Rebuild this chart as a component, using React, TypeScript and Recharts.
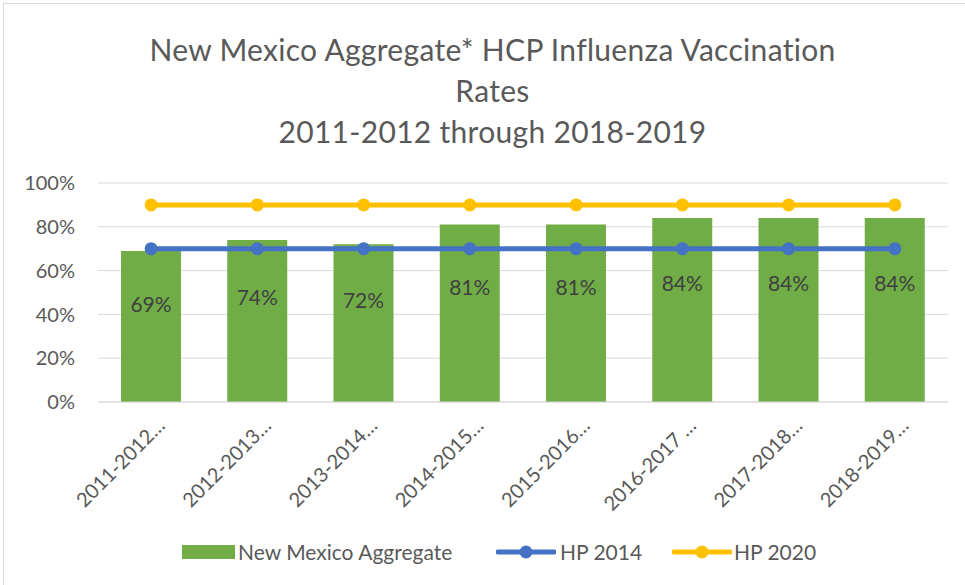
import { ComposedChart, Bar, Line, XAxis, YAxis, CartesianGrid, LabelList } from "recharts";

const seasons = [
  "2011-2012…",
  "2012-2013…",
  "2013-2014…",
  "2014-2015…",
  "2015-2016…",
  "2016-2017 …",
  "2017-2018…",
  "2018-2019…",
];
const nmAggregate = [69, 74, 72, 81, 81, 84, 84, 84];
const hp2014 = [70, 70, 70, 70, 70, 70, 70, 70];
const hp2020 = [90, 90, 90, 90, 90, 90, 90, 90];
const yTicks = [0, 20, 40, 60, 80, 100];

const data = seasons.map((season, i) => ({
  season,
  nm: nmAggregate[i],
  hp2014: hp2014[i],
  hp2020: hp2020[i],
}));

const FONT = "Lato, 'Open Sans', sans-serif";
const GREEN = "#70ad47";
const BLUE = "#4472c4";
const GOLD = "#ffc000";

function SeasonTick(props: any) {
  const { x, y, payload } = props;
  return (
    <g transform={`translate(${x + 15},${y + 17})`}>
      <text
        x={0}
        y={0}
        textAnchor="end"
        transform="rotate(-45)"
        fill="#595959"
        fontSize={20}
        fontFamily={FONT}
      >
        {payload.value}
      </text>
    </g>
  );
}

function BarValue(props: any) {
  const { x, y, width, height, value } = props;
  return (
    <text
      x={x + width / 2}
      y={y + height * 0.35}
      textAnchor="middle"
      dominantBaseline="central"
      fill="#404040"
      fontSize={21}
      fontFamily={FONT}
    >
      {value}%
    </text>
  );
}

function LegendLine({ color }: { color: string }) {
  return (
    <svg width={60} height={16} style={{ display: "block" }}>
      <line x1={2} y1={8} x2={58} y2={8} stroke={color} strokeWidth={5} strokeLinecap="round" />
      <circle cx={30} cy={8} r={6.5} fill={color} />
    </svg>
  );
}

const legendText = {
  position: "absolute" as const,
  top: 539,
  fontSize: 21,
  lineHeight: "26px",
  color: "#595959",
  whiteSpace: "nowrap" as const,
};

export default function App() {
  return (
    <div
      style={{
        position: "absolute",
        left: 0,
        top: 0,
        width: 965,
        height: 585,
        background: "#fff",
        fontFamily: FONT,
      }}
    >
      <div
        style={{
          position: "absolute",
          left: 3,
          top: 3,
          width: 970,
          height: 590,
          borderLeft: "1px solid #d9d9d9",
          borderTop: "1px solid #d9d9d9",
        }}
      />
      <ComposedChart
        width={965}
        height={585}
        data={data}
        margin={{ top: 183, right: 17, bottom: 0, left: 0 }}
      >
        <CartesianGrid vertical={false} stroke="#d9d9d9" />
        <XAxis
          dataKey="season"
          height={183}
          axisLine={{ stroke: "#d9d9d9" }}
          tickLine={false}
          tick={<SeasonTick />}
          interval={0}
        />
        <YAxis
          width={98}
          domain={[0, 100]}
          ticks={yTicks}
          tickFormatter={(v: number) => `${v}%`}
          axisLine={false}
          tickLine={false}
          tickSize={0}
          tickMargin={23}
          tick={{ fill: "#595959", fontSize: 20, fontFamily: FONT }}
        />
        <Bar dataKey="nm" name="New Mexico Aggregate" fill={GREEN} barSize={60} isAnimationActive={false}>
          <LabelList dataKey="nm" content={<BarValue />} />
        </Bar>
        <Line
          dataKey="hp2014"
          name="HP 2014"
          stroke={BLUE}
          strokeWidth={5}
          dot={{ r: 6.5, fill: BLUE, stroke: BLUE, strokeWidth: 0 }}
          isAnimationActive={false}
        />
        <Line
          dataKey="hp2020"
          name="HP 2020"
          stroke={GOLD}
          strokeWidth={5}
          dot={{ r: 6.5, fill: GOLD, stroke: GOLD, strokeWidth: 0 }}
          isAnimationActive={false}
        />
      </ComposedChart>
      <div
        style={{
          position: "absolute",
          left: 10,
          top: 29,
          width: 965,
          textAlign: "center",
          fontSize: 30,
          letterSpacing: 0.3,
          lineHeight: "41px",
          color: "#595959",
        }}
      >
        <div>New Mexico Aggregate* HCP Influenza Vaccination</div>
        <div>Rates</div>
        <div>2011-2012 through 2018-2019</div>
      </div>
      <div style={{ position: "absolute", left: 182, top: 545, width: 53, height: 14, background: GREEN }} />
      <span style={{ ...legendText, left: 238 }}>New Mexico Aggregate</span>
      <div style={{ position: "absolute", left: 496, top: 544 }}>
        <LegendLine color={BLUE} />
      </div>
      <span style={{ ...legendText, left: 560 }}>HP 2014</span>
      <div style={{ position: "absolute", left: 672, top: 544 }}>
        <LegendLine color={GOLD} />
      </div>
      <span style={{ ...legendText, left: 734 }}>HP 2020</span>
    </div>
  );
}
